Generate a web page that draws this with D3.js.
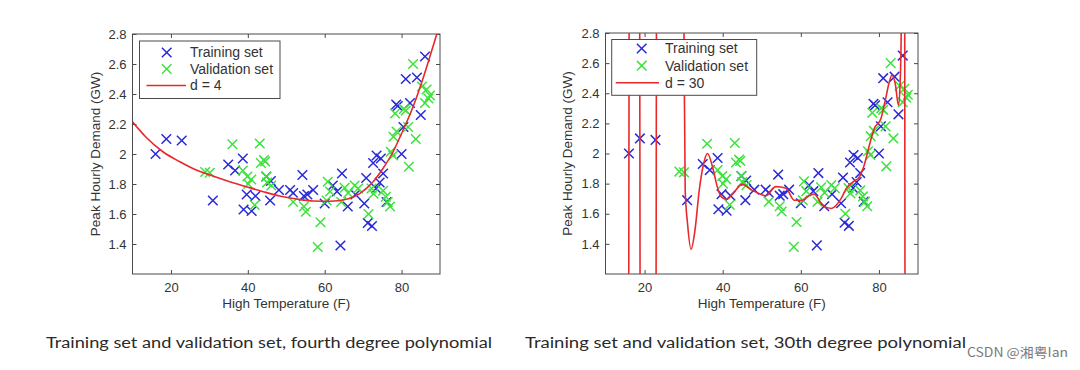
<!DOCTYPE html>
<html>
<head>
<meta charset="utf-8">
<script src="https://cdn.jsdelivr.net/npm/d3@7"></script>
<style>
  body { margin: 0; background: #fff; }
  svg { display: block; }
  .tick text { font-family: "Liberation Sans", Arial, sans-serif; fill: #333; }
</style>
</head>
<body>
<div id="chart"></div>
<script>
// training set (blue crosses)
const trainTemp = [16.0, 18.8, 22.8, 30.9, 34.9, 36.7, 38.7, 39.7, 38.9, 41.0,
                   42.0, 45.8, 44.8, 46.0, 48.1, 51.0, 51.8, 54.2, 54.6, 55.5,
                   57.0, 60.0, 62.1, 63.2, 64.5, 66.0, 64.1, 68.0, 70.3, 70.8,
                   71.2, 72.3, 72.6, 73.5, 74.6, 74.3, 75.2, 76.1, 73.4, 78.6,
                   79.0, 80.0, 80.5, 81.1, 82.2, 84.0, 85.0, 86.1];
const trainDemand = [2.00, 2.10, 2.09, 1.69, 1.93, 1.89, 1.97, 1.73, 1.63, 1.62,
                     1.72, 1.69, 1.85, 1.82, 1.76, 1.76, 1.74, 1.86, 1.72, 1.73,
                     1.76, 1.67, 1.79, 1.75, 1.87, 1.65, 1.39, 1.73, 1.67, 1.84,
                     1.54, 1.52, 1.94, 1.99, 1.97, 1.81, 1.87, 1.68, 1.77, 2.33,
                     2.32, 2.00, 2.18, 2.50, 2.34, 2.51, 2.26, 2.65];

// validation set (green crosses)
const validTemp = [28.9, 30.1, 36.0, 43.1, 38.7, 39.9, 40.1, 40.9, 41.8, 43.4,
                   44.2, 44.5, 44.8, 45.0, 46.1, 51.8, 54.6, 55.1, 58.9, 58.2,
                   60.5, 60.8, 61.4, 64.3, 65.2, 66.1, 67.8, 68.7, 71.4, 72.2,
                   72.7, 75.2, 75.9, 77.0, 76.4, 77.2, 77.8, 77.9, 78.7, 78.3,
                   81.1, 81.7, 81.9, 83.7, 83.0, 85.3, 86.5, 87.4, 86.1, 87.0,
                   80.6];
const validDemand = [1.88, 1.875, 2.065, 2.07, 1.89, 1.85, 1.80, 1.83, 1.66, 1.94,
                     1.96, 1.95, 1.85, 1.81, 1.79, 1.68, 1.65, 1.615, 1.545, 1.38,
                     1.69, 1.815, 1.75, 1.68, 1.775, 1.74, 1.79, 1.77, 1.60, 1.77,
                     1.735, 1.755, 1.715, 1.65, 1.68, 2.015, 1.99, 2.115, 2.15, 2.27,
                     2.29, 2.18, 1.915, 2.10, 2.60, 2.45, 2.43, 2.39, 2.34, 2.37,
                     2.30];

// fitted curve, degree 4
const fit4Temp = [10, 13.6, 17.9, 22.2, 26.6, 30.9, 35.3, 39.6, 44.0, 48.3, 52.7, 57.0,
                  61.3, 65.7, 69.2, 72.6, 75.2, 77.8, 80.4, 83.0, 85.6, 88.3, 90];
const fit4Demand = [2.215, 2.11, 2.015, 1.95, 1.893, 1.853, 1.815, 1.782, 1.749, 1.72, 1.70, 1.687,
                    1.685, 1.698, 1.738, 1.815, 1.905, 2.015, 2.16, 2.315, 2.505, 2.727, 2.87];

// fitted curve, degree 30 (off-chart parts clipped)
const fit30Temp = [10, 15.9, 16.0, 16.1, 18.7, 18.8, 18.9, 22.9, 23.0, 23.1,
                   29.9, 30.1, 30.4, 31.0, 31.9, 32.9, 34.0, 35.1, 36.1, 37.6,
                   38.6, 39.7, 41.0, 42.5, 45.0, 47.6, 49.7, 51.0, 53.6, 56.2,
                   58.3, 60.4, 62.1, 63.4, 65.6, 67.8, 70.3, 71.7, 73.3, 75.0,
                   76.2, 77.5, 78.8, 80.5, 81.6, 82.6, 83.3, 84.2, 85.0, 85.4,
                   85.7, 85.9, 86.4, 86.6, 86.7, 90];
const fit30Demand = [0.4, 0.4, 2.0, 3.6, 3.6, 2.1, 0.4, 0.4, 2.09, 3.6,
                     3.6, 2.8, 1.756, 1.535, 1.364, 1.49, 1.756, 1.93, 2.0, 1.89,
                     1.78, 1.71, 1.695, 1.73, 1.795, 1.755, 1.73, 1.72, 1.78, 1.77,
                     1.69, 1.69, 1.72, 1.73, 1.656, 1.635, 1.70, 1.77, 1.81, 1.845,
                     1.92, 2.05, 2.165, 2.23, 2.35, 2.47, 2.52, 2.46, 2.32, 2.45,
                     2.8, 3.6, 3.6, 2.8, 0.4, 0.4];

const xTicks = [20, 40, 60, 80];
const yTicks = [1.4, 1.6, 1.8, 2.0, 2.2, 2.4, 2.6, 2.8];
const yTickLabels = ["1.4", "1.6", "1.8", "2", "2.2", "2.4", "2.6", "2.8"];
const legendLabels = ["Training set", "Validation set"];

const blue = "#2a2ad8", green = "#3ee23e", red = "#e8282a", frameColor = "#4a4a4a";
const W = 1080, H = 370;

const svg = d3.select("#chart").append("svg")
    .attr("width", W)
    .attr("height", H)
    .style("background-color", "#fff");

const zip = (xs, ys) => xs.map((v, i) => [v, ys[i]]);

function drawPanel(p) {
    const x = d3.scaleLinear().domain([10, 90]).range([p.left, p.right]);
    const y = d3.scaleLinear().domain([1.2, 2.8]).range([p.bottom, p.top]);
    const g = svg.append("g");

    g.append("clipPath").attr("id", p.id + "-clip")
        .append("rect")
        .attr("x", p.left).attr("y", p.top)
        .attr("width", p.right - p.left).attr("height", p.bottom - p.top);

    // axes, matlab style: inward ticks on all four sides
    const axes = [
        d3.axisBottom(x).tickValues(xTicks).tickSizeInner(-4).tickSizeOuter(0).tickPadding(9),
        d3.axisTop(x).tickValues(xTicks).tickSizeInner(-4).tickSizeOuter(0).tickFormat(""),
        d3.axisLeft(y).tickValues(yTicks).tickSizeInner(-4).tickSizeOuter(0).tickPadding(6)
            .tickFormat((d, i) => yTickLabels[i]),
        d3.axisRight(y).tickValues(yTicks).tickSizeInner(-4).tickSizeOuter(0).tickFormat("")
    ];
    const shifts = [[0, p.bottom], [0, p.top], [p.left, 0], [p.right, 0]];
    axes.forEach((a, i) => {
        const ag = g.append("g")
            .attr("transform", `translate(${shifts[i][0]},${shifts[i][1]})`)
            .call(a);
        ag.select(".domain").remove();
        ag.selectAll(".tick line").attr("stroke", frameColor);
        ag.selectAll(".tick text").attr("font-size", 13);
    });

    g.append("rect")
        .attr("x", p.left).attr("y", p.top)
        .attr("width", p.right - p.left).attr("height", p.bottom - p.top)
        .attr("fill", "none").attr("stroke", frameColor).attr("stroke-width", 1);

    g.append("text")
        .attr("x", (p.left + p.right) / 2).attr("y", 308)
        .attr("text-anchor", "middle")
        .attr("font-family", "Liberation Sans, Arial, sans-serif")
        .attr("font-size", 13.5).attr("fill", "#333")
        .text("High Temperature (F)");

    g.append("text")
        .attr("transform", `translate(${p.yTitleX},${(p.top + p.bottom) / 2}) rotate(-90)`)
        .attr("dy", "0.35em")
        .attr("text-anchor", "middle")
        .attr("font-family", "Liberation Sans, Arial, sans-serif")
        .attr("font-size", 13.5).attr("fill", "#333")
        .text("Peak Hourly Demand (GW)");

    const cross = "M-4.8,-4.8L4.8,4.8M-4.8,4.8L4.8,-4.8";
    const drawCrosses = (data, color) => {
        g.append("g").attr("clip-path", `url(#${p.id}-clip)`)
            .selectAll("path").data(data).join("path")
            .attr("d", cross)
            .attr("transform", d => `translate(${x(d[0])},${y(d[1])})`)
            .attr("fill", "none")
            .attr("stroke", color)
            .attr("stroke-width", 1.5);
    };
    drawCrosses(zip(trainTemp, trainDemand), blue);
    drawCrosses(zip(validTemp, validDemand), green);

    const line = d3.line()
        .x(d => x(d[0]))
        .y(d => y(d[1]))
        .curve(d3.curveMonotoneX);
    g.append("path")
        .datum(zip(p.curveTemp, p.curveDemand))
        .attr("clip-path", `url(#${p.id}-clip)`)
        .attr("d", line)
        .attr("fill", "none")
        .attr("stroke", red)
        .attr("stroke-width", 1.6);

    // legend
    const L = p.legend;
    g.append("rect")
        .attr("x", L.x0).attr("y", L.y0)
        .attr("width", L.x1 - L.x0).attr("height", L.y1 - L.y0)
        .attr("fill", "#fff").attr("stroke", frameColor).attr("stroke-width", 1);
    const labels = legendLabels.concat([p.curveLabel]);
    labels.forEach((lab, i) => {
        const ry = L.rows[i];
        if (i < 2) {
            g.append("path")
                .attr("d", cross)
                .attr("transform", `translate(${L.markX},${ry})`)
                .attr("fill", "none")
                .attr("stroke", i === 0 ? blue : green)
                .attr("stroke-width", 1.5);
        } else {
            g.append("line")
                .attr("x1", L.lineX0).attr("x2", L.lineX1)
                .attr("y1", ry).attr("y2", ry)
                .attr("stroke", red).attr("stroke-width", 1.6);
        }
        g.append("text")
            .attr("x", L.textX).attr("y", ry)
            .attr("dy", "0.35em")
            .attr("font-family", "Liberation Sans, Arial, sans-serif")
            .attr("font-size", 14).attr("fill", "#333")
            .text(lab);
    });
}

drawPanel({
    id: "p4", left: 132.5, right: 440, top: 34, bottom: 274, yTitleX: 95,
    curveTemp: fit4Temp, curveDemand: fit4Demand, curveLabel: "d = 4",
    legend: { x0: 139.5, x1: 280, y0: 41, y1: 98.5, rows: [52.5, 69, 85.5],
              markX: 166.7, textX: 190, lineX0: 146.5, lineX1: 186 }
});

drawPanel({
    id: "p30", left: 605.5, right: 918, top: 33, bottom: 274, yTitleX: 567,
    curveTemp: fit30Temp, curveDemand: fit30Demand, curveLabel: "d = 30",
    legend: { x0: 611.7, x1: 756.7, y0: 39.5, y1: 95.3, rows: [48.5, 65.7, 82.8],
              markX: 641.7, textX: 665, lineX0: 615.7, lineX1: 659 }
});

// captions under the panels
const captions = [
    { text: "Training set and validation set, fourth degree polynomial", x: 46, w: 446 },
    { text: "Training set and validation set, 30th degree polynomial", x: 525, w: 441 }
];
captions.forEach(c => {
    svg.append("text")
        .attr("x", c.x).attr("y", 348)
        .attr("textLength", c.w).attr("lengthAdjust", "spacingAndGlyphs")
        .attr("font-family", "Lato, 'Open Sans', sans-serif")
        .attr("font-size", 15.5).attr("fill", "#2a2a2a")
        .text(c.text);
});

svg.append("text")
    .attr("x", 967).attr("y", 357)
    .attr("textLength", 101).attr("lengthAdjust", "spacingAndGlyphs")
    .attr("font-family", "'Noto Sans CJK SC', sans-serif")
    .attr("font-size", 13).attr("fill", "#7a7a7a")
    .text("CSDN @湘粤Ian");
</script>
</body>
</html>
